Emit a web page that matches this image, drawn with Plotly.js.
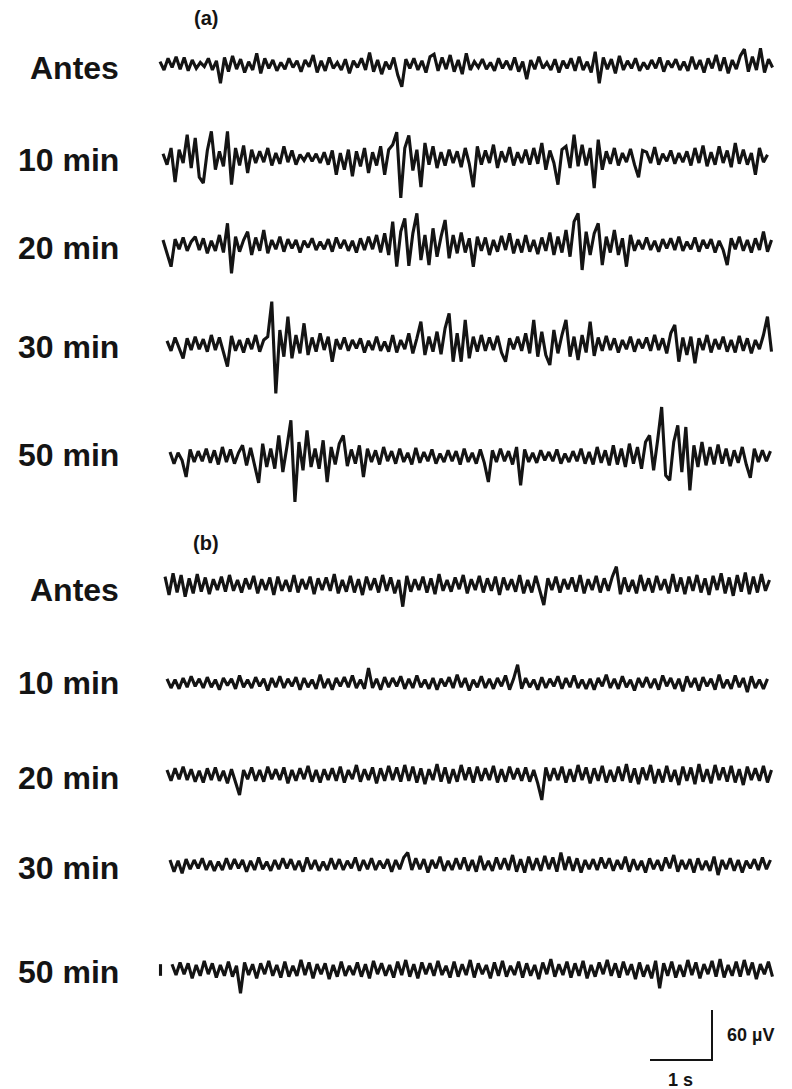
<!DOCTYPE html>
<html>
<head>
<meta charset="utf-8">
<script src="https://cdn.plot.ly/plotly-3.0.1.min.js"></script>
<style>
  html, body { margin: 0; padding: 0; background: #fff; }
  #chart { width: 792px; height: 1089px; }
</style>
</head>
<body>
<div id="chart"></div>
<script>
// EEG recordings (µV), one sample every 0.065 s
const rowLabels = ['Antes', '10 min', '20 min', '30 min', '50 min'];
const panelLabels = ['(a)', '(b)'];
const sampleStep = 0.065;   // s
const scaleTime = 1;        // s
const scaleVolt = 60;       // µV

const a_antes = [4,-6,8,-3,10,-5,9,-7,6,-4, 3,-2,8,-6,5,-22,9,-8,11,-5, 7,-9,4,-6,14,-10,8,-4,6,-7,
  3,-5,8,-3,5,-8,6,-2,12,-9, 5,-7,9,-4,3,-6,7,-10,5,-3, 8,-6,15,-8,6,-11,4,-5,9,-12,
  -26,7,-4,8,-6,5,-9,10,13,-7, 9,-5,12,-8,6,-11,14,-6,4,-3, 7,-5,3,-7,8,-4,5,-6,9,-8,
  4,-17,6,-5,10,-4,3,-6,7,-9, 5,-4,8,-7,10,-6,4,-9,16,-22, 9,-5,7,-10,11,-6,5,-4,8,-7,
  3,-5,6,-4,9,-8,5,-3,7,-6, 4,-7,10,-5,6,-9,8,-4,12,-7, 9,-10,6,-5,11,19,-8,10,-6,20, -9,7,-3];

const a_10min = [5,-8,12,-29,10,-6,28,-12,24,-23, -30,9,32,-14,8,-10,32,-32,12,-9, 15,-18,10,-6,8,-5,12,-9,6,-7,
  14,-5,9,-8,4,-3,6,-4,5,-6, 7,-8,9,-20,6,-14,10,-22,8,-10, 12,-18,7,-9,14,-20,10,16,31,-48,
  12,27,-15,10,-35,18,-8,14,-12,7, -9,10,-6,8,-11,12,-7,-35,14,-8, 9,-6,16,-12,8,-5,13,-9,7,-6,
  10,-8,12,-7,18,-14,9,-6,-32,10, 14,-12,28,-10,16,-9,12,-36,22,-14, 8,-7,12,-9,6,-5,11,-8,-23,9,
  7,-6,13,-8,5,-4,9,-7,6,-5, 8,-9,12,-6,15,-10,7,-8,14,-6, 9,-11,18,-7,10,-8,6,-20,12,-5, 4];

const a_20min = [6,-9,-26,7,-5,9,-7,4,10,-6, 8,-10,5,-7,12,-9,26,-34,10,-8, 6,16,-12,9,-7,18,-10,6,-5,10,
  -8,7,-4,6,-9,5,-3,8,-6,4, -5,7,-8,9,-4,6,-7,5,-9,8, -6,10,-5,12,-9,14,-12,28,-26,16,
  32,-25,14,38,-18,12,-24,20,-14,10, 30,-16,12,-10,15,-9,8,-26,10,-7, 9,-12,6,-8,11,-6,14,-10,7,-9,
  12,-8,6,-11,9,-7,15,-12,10,-9, 18,-14,28,38,-30,16,-12,14,26,-24, 10,-9,18,-12,8,-26,12,-7,6,-5,
  9,-6,5,-8,7,-4,8,-6,10,-7, 4,-5,9,-8,6,-4,7,-9,5,-6, -24,8,-5,10,-7,6,-9,8,-6,16, -8,6];

const a_30min = [5,-7,9,-4,-16,8,-6,10,-5,7, -8,12,-6,9,-10,-26,11,-7,6,-9, 8,-5,12,-8,6,10,52,-58,18,-14,
  34,-16,12,-10,26,-12,9,-8,14,-6, 10,-20,7,-5,9,-7,6,-4,8,-9, 5,-6,10,-7,4,-8,12,-9,6,-5,
  14,-10,8,28,-12,10,-8,16,-11,20, 38,-20,14,-20,30,-16,10,-8,12,-7, 9,-6,11,-9,-20,8,-5,10,-7,14,
  -10,30,-14,16,-12,-24,18,-10,12,30, -14,10,-18,12,-9,28,-13,9,-7,11, -6,8,-9,6,-5,10,-8,7,-4,9,
  -7,12,-6,8,-10,14,24,-20,9,-12, 10,-22,8,-6,12,-9,7,-5,10,-8, 6,-9,11,-7,8,-10,6,-5,12,34, -8];

const a_50min = [6,-8,5,-4,-24,9,-6,7,-5,10, -7,8,-9,12,-6,9,-8,5,14,-10, 11,-9,-31,16,-12,10,-14,26,-18,12,
  44,-54,18,-16,32,-12,10,-14,20,-30, 12,-9,16,26,-11,9,-8,14,-24,10, -6,8,-9,12,-5,7,-8,10,-6,5,
  -9,11,-7,6,-5,9,-8,4,-6,8, -5,7,-9,10,-6,5,-8,9,-7,-30, 8,-6,10,-5,7,-9,12,-34,9,-6,
  5,-7,8,-4,6,-5,9,-8,4,-6, 7,-5,10,-8,6,-9,12,-7,8,-10, 14,-9,10,-12,16,-8,12,-14,18,26,
  -16,20,60,-22,-28,18,38,-18,36,-40, 14,-12,18,-10,12,-9,15,-8,10,-11, 8,-7,12,-9,-25,10,-6,8,-5,7];

const b_antes = [10,-12,14,-9,12,-14,8,-10,13,-8, 9,-11,7,-6,10,-8,12,-7,6,-9, 8,-5,11,-10,7,-6,9,-12,10,-7,
  6,-8,12,-9,7,-5,10,-11,8,-6, 9,-7,13,-10,6,-8,11,-9,7,-12, 10,-6,8,-9,12,-7,9,-10,6,-26,
  11,-8,7,-6,10,-9,8,-11,13,-7, 6,-8,9,-5,12,-10,7,-6,11,-9, 8,-7,10,-12,9,-6,7,-8,12,-10,
  6,-9,11,-7,-24,8,-6,10,-9,7, -5,9,-8,12,-10,7,-6,11,-9,8, -7,10,22,-11,9,-8,6,-10,12,-7,
  8,-9,11,-6,7,-10,13,-8,9,-11, 10,-7,12,-9,8,-12,11,-6,14,-10, 9,-13,12,-8,15,-11,10,-9,13,-7, 6];

const b_10min = [5,-6,4,-7,6,-5,8,-4,5,-6, 7,-5,4,-8,6,-3,5,-7,9,-5, 4,-6,7,-4,5,-9,6,-5,8,-6,
  5,-4,7,-8,6,-5,4,-7,10,-6, 5,-8,6,-4,7,-5,9,-6,4,-7, 18,-6,5,-8,7,-5,6,-4,8,-7,
  5,-6,9,-5,4,-7,6,-8,5,-4, 7,-6,10,-5,6,-9,4,-5,8,-6, 5,-7,6,-4,9,-8,5,22,-7,6,
  -5,4,-8,7,-6,5,-4,8,-7,6, -5,9,-6,4,-7,5,-8,6,-4,10, -6,5,-7,8,-5,4,-9,6,-5,7,
  -6,5,-8,9,-4,6,-7,5,-10,8, -5,6,-9,7,-4,5,-8,10,-6,4, -7,9,-5,6,-11,8,-6,4,-7,5];

const b_20min = [6,-7,8,-5,10,-6,7,-8,5,-9, 8,-6,9,-7,5,-10,7,-8,-24,6, -5,9,-7,6,-8,10,-5,7,-6,9,
  -10,6,-7,8,-5,11,-8,6,-9,7, -6,8,-7,10,-9,6,-5,12,-8,7, -6,9,-10,8,-7,11,-6,9,-8,12,
  -7,10,-9,8,-11,7,-6,13,-8,9, -10,7,-8,12,-6,9,-9,10,-7,8, -6,11,-9,7,-8,10,-5,8,-7,9,
  -8,6,-10,-30,9,-7,8,-6,10,-9, 7,-8,12,-6,9,-10,8,-7,11,-9, 6,-8,10,-7,13,-9,8,-11,9,-6,
  12,-10,7,-9,11,-8,6,-12,10,-7, 9,-11,13,-8,7,-10,12,-6,9,-8, 11,-9,7,-12,10,-6,8,-7,11,-9, 6];

const b_30min = [6,-8,5,-10,7,-5,6,-4,8,-6, 5,-7,4,-6,8,-5,7,-4,6,-8, 5,-6,9,-5,4,-7,6,-5,8,-4,
  7,-6,5,-8,9,-5,6,-7,4,-6, 8,-5,7,-6,5,-4,9,-7,6,-5, 8,-6,5,-4,7,-8,6,-5,9,15,
  -6,8,-5,7,-9,6,-4,10,-7,5, -6,8,-5,9,-7,6,-8,11,-6,5, -7,9,-5,8,-6,12,-8,7,-9,10,
  -6,8,-7,11,-5,9,-8,15,-6,10, -7,8,-9,6,-5,7,-6,9,-4,8, -7,6,-5,10,-8,7,-6,5,-9,8,
  -5,6,-7,9,-4,12,-8,6,-5,7, -9,8,-6,5,-7,10,-12,6,-5,8, -7,6,-9,5,-4,7,-6,9,-5,6];

const b_50min = [7,-6,9,-5,8,-10,6,-7,11,-5, 8,-9,6,-7,10,-8,5,-28,9,-6, 7,-10,8,-5,11,-7,6,-9,10,-8,
  5,-7,12,-6,9,-10,7,-5,8,-11, 6,-8,10,-7,5,-6,9,-8,7,-10, 11,-5,8,-7,6,-9,10,-6,12,-8,
  7,-10,9,-5,8,-7,11,-6,5,-9, 10,-8,7,-6,12,-9,8,-5,6,-10, 9,-7,11,-8,5,-6,10,-9,8,-7,
  6,-11,9,-5,13,-8,7,-6,10,-9, 8,-7,11,-10,6,-8,9,-5,12,-7, 8,-9,10,-6,7,-11,9,-8,6,-10,
  11,-22,8,-7,10,-9,6,-8,12,-6, 9,-10,7,-5,11,-8,13,-9,6,-7, 10,-8,12,-6,9,-11,7,-5,10,-8];
// short isolated deflection just before the last (b) recording
const b_50min_lead = [-7, 7];

const panelA = [a_antes, a_10min, a_20min, a_30min, a_50min];
const panelB = [b_antes, b_10min, b_20min, b_30min, b_50min];

// ---- page geometry (pixels) ----
const W = 792, H = 1089;
const X0 = 160;          // pixel of t = 0
const PX_PER_S = 62;     // horizontal scale
const UV_PER_PX = 1.2;   // vertical scale
const toT = px => (px - X0) / PX_PER_S;
const toV = py => -py * UV_PER_PX;

// trace start (px) and baseline (px) for each row
const rowStartA = [160, 163, 163, 167, 170];
const rowBaseA  = [65, 158, 245, 345, 457];
const rowStartB = [165, 167, 167, 170, 172];
const rowBaseB  = [585, 683, 775, 865, 970];
const labelYA = [68, 160, 248, 347, 455];
const labelYB = [590, 683, 778, 868, 972];

const ink = '#141414';
const traces = [];
function addRow(vals, startPx, basePx, step) {
  const t0 = toT(startPx), off = toV(basePx);
  traces.push({
    type: 'scatter', mode: 'lines',
    x: vals.map((_, i) => t0 + i * step),
    y: vals.map(v => off + v),
    line: { color: ink, width: 3.1 },
    hoverinfo: 'skip', showlegend: false
  });
}
panelA.forEach((v, i) => addRow(v, rowStartA[i], rowBaseA[i], sampleStep));
panelB.forEach((v, i) => addRow(v, rowStartB[i], rowBaseB[i], sampleStep));
addRow(b_50min_lead, 160.5, rowBaseB[4], 0);

// calibration bar: 1 s by 60 µV
const barT = toT(650), barV = toV(1060);
traces.push({
  type: 'scatter', mode: 'lines',
  x: [barT, barT + scaleTime, barT + scaleTime],
  y: [barV, barV, barV + scaleVolt],
  line: { color: ink, width: 2 },
  hoverinfo: 'skip', showlegend: false
});

const font = { family: 'Liberation Sans, Arial, sans-serif', color: ink };
const ann = [];
const px = x => x / W, py = y => 1 - y / H;
function label(text, x, y, size, anchor) {
  ann.push({ text: '<b>' + text + '</b>', xref: 'paper', yref: 'paper', x: px(x), y: py(y),
    xanchor: anchor, yanchor: 'middle', showarrow: false, font: Object.assign({ size: size }, font) });
}
rowLabels.forEach((t, i) => label(t, 121, labelYA[i], 32, 'right'));
rowLabels.forEach((t, i) => label(t, 121, labelYB[i], 32, 'right'));
label(panelLabels[0], 206, 18, 20, 'center');
label(panelLabels[1], 206, 543, 20, 'center');
label(scaleVolt + ' µV', 725, 1035, 18, 'left');
label(scaleTime + ' s', 680, 1080, 18, 'center');

const layout = {
  width: W, height: H,
  margin: { l: 0, r: 0, t: 0, b: 0 },
  paper_bgcolor: '#fff', plot_bgcolor: '#fff',
  xaxis: { range: [toT(0), toT(W)], visible: false, fixedrange: true },
  yaxis: { range: [toV(H), toV(0)], visible: false, fixedrange: true },
  annotations: ann,
  showlegend: false
};

Plotly.newPlot('chart', traces, layout, { staticPlot: true, displayModeBar: false });
</script>
</body>
</html>
